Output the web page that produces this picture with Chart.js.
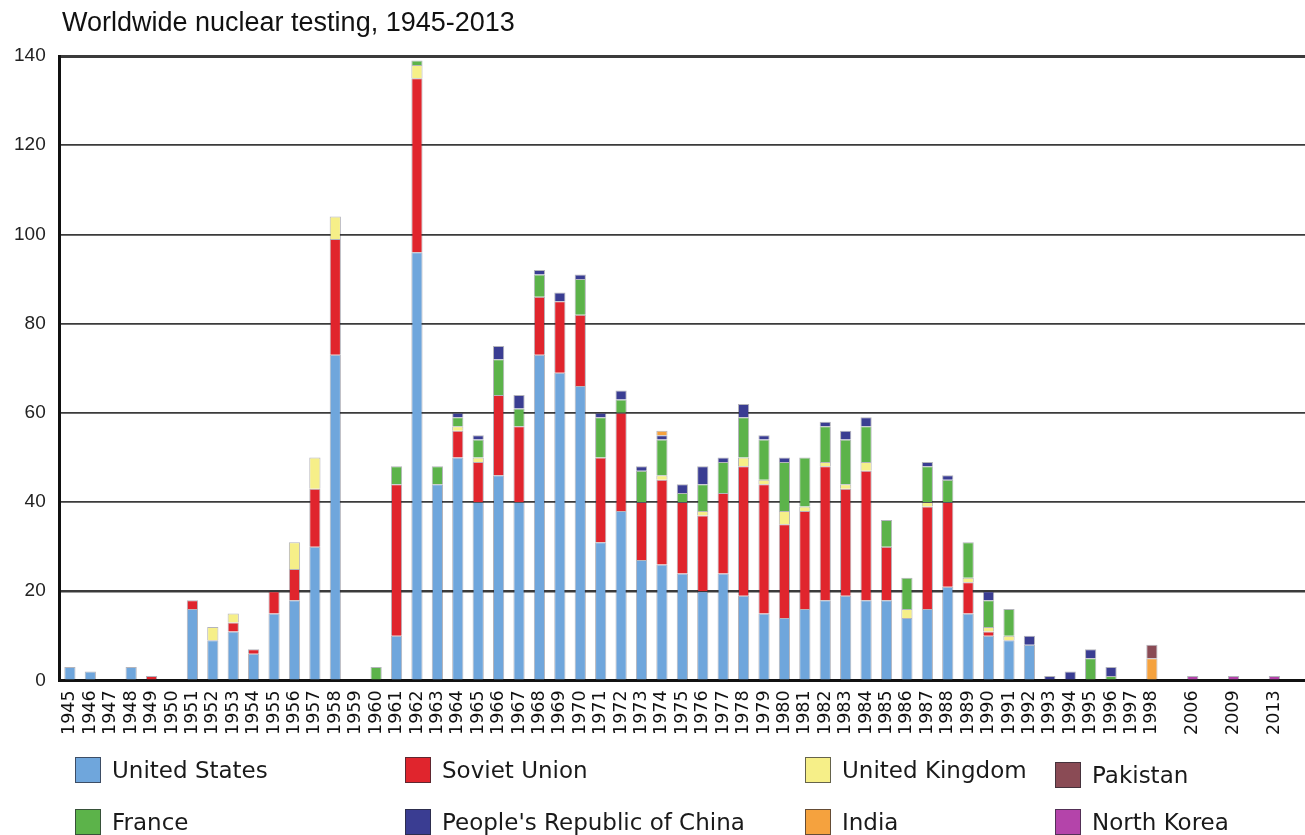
<!DOCTYPE html>
<html>
<head>
<meta charset="utf-8">
<script src="https://cdn.jsdelivr.net/npm/chart.js@4.4.1/dist/chart.umd.min.js"></script>
<style>
  body { margin: 0; background: #fff; }
  #wrap { position: relative; width: 1305px; height: 835px; overflow: hidden; }
  #title { position: absolute; left: 62px; top: 9px; font: 27px/26px "Liberation Sans", Arial, sans-serif; color: #111; white-space: nowrap; }
  .item { position: absolute; height: 26px; white-space: nowrap; font: 23px/26px "DejaVu Sans", sans-serif; color: #1a1a1a; }
  .box { position: absolute; left: 0; top: 0; width: 24px; height: 24px; border: 1px solid rgba(40,40,50,0.7); }
  .txt { position: absolute; left: 37px; top: 0; }
</style>
</head>
<body>
<div id="wrap">
  <canvas id="myChart" width="1305" height="835"></canvas>
  <div id="title">Worldwide nuclear testing, 1945-2013</div>
  <div id="legend"></div>
</div>
<script>
// categories: 1945-1998, then blank spacers around the later years
const years = ["1945","1946","1947","1948","1949","1950","1951","1952","1953","1954",
  "1955","1956","1957","1958","1959","1960","1961","1962","1963","1964",
  "1965","1966","1967","1968","1969","1970","1971","1972","1973","1974",
  "1975","1976","1977","1978","1979","1980","1981","1982","1983","1984",
  "1985","1986","1987","1988","1989","1990","1991","1992","1993","1994",
  "1995","1996","1997","1998","","2006","","2009","","2013",""];

// tests per year, one array per country (same order as years)
const unitedStates = [3,2,0,3,0,0,16,9,11,6, 15,18,30,73,0,0,10,96,44,50,
  40,46,40,73,69,66,31,38,27,26, 24,20,24,19,15,14,16,18,19,18,
  18,14,16,21,15,10,9,8,0,0, 0,0,0,0, 0,0,0,0,0,0,0];
const sovietUnion = [0,0,0,0,1,0,2,0,2,1, 5,7,13,26,0,0,34,39,0,6,
  9,18,17,13,16,16,19,22,13,19, 16,17,18,29,29,21,22,30,24,29,
  12,0,23,19,7,1,0,0,0,0, 0,0,0,0, 0,0,0,0,0,0,0];
const unitedKingdom = [0,0,0,0,0,0,0,3,2,0, 0,6,7,5,0,0,0,3,0,1,
  1,0,0,0,0,0,0,0,0,1, 0,1,0,2,1,3,1,1,1,2,
  0,2,1,0,1,1,1,0,0,0, 0,0,0,0, 0,0,0,0,0,0,0];
const france = [0,0,0,0,0,0,0,0,0,0, 0,0,0,0,0,3,4,1,4,2,
  4,8,4,5,0,8,9,3,7,8, 2,6,7,9,9,11,11,8,10,8,
  6,7,8,5,8,6,6,0,0,0, 5,1,0,0, 0,0,0,0,0,0,0];
const china = [0,0,0,0,0,0,0,0,0,0, 0,0,0,0,0,0,0,0,0,1,
  1,3,3,1,2,1,1,2,1,1, 2,4,1,3,1,1,0,1,2,2,
  0,0,1,1,0,2,0,2,1,2, 2,2,0,0, 0,0,0,0,0,0,0];
const india = [0,0,0,0,0,0,0,0,0,0, 0,0,0,0,0,0,0,0,0,0,
  0,0,0,0,0,0,0,0,0,1, 0,0,0,0,0,0,0,0,0,0,
  0,0,0,0,0,0,0,0,0,0, 0,0,0,5, 0,0,0,0,0,0,0];
const pakistan = [0,0,0,0,0,0,0,0,0,0, 0,0,0,0,0,0,0,0,0,0,
  0,0,0,0,0,0,0,0,0,0, 0,0,0,0,0,0,0,0,0,0,
  0,0,0,0,0,0,0,0,0,0, 0,0,0,3, 0,0,0,0,0,0,0];
const northKorea = [0,0,0,0,0,0,0,0,0,0, 0,0,0,0,0,0,0,0,0,0,
  0,0,0,0,0,0,0,0,0,0, 0,0,0,0,0,0,0,0,0,0,
  0,0,0,0,0,0,0,0,0,0, 0,0,0,0, 0,1,0,1,0,1,0];

const countries = ["United States","Soviet Union","United Kingdom","France",
  "People's Republic of China","India","Pakistan","North Korea"];
const series = [unitedStates, sovietUnion, unitedKingdom, france, china, india, pakistan, northKorea];
const colors = ["#6fa6dc","#e0252d","#f6ef88","#5cb34a","#3a3d92","#f5a23e","#8a4b55","#b444aa"];

// legend spots (left, top of the colour box) – 4 columns, 2 rows
const legendSpots = [[75,757],[405,757],[805,757],[75,809],[405,809],[805,809],[1055,762],[1055,809]];

const datasets = countries.map((name, i) => ({
  label: name,
  data: series[i].map(v => v === 0 ? null : v),
  backgroundColor: colors[i],
  borderColor: "rgba(40,40,60,0.35)",
  borderWidth: 1,
  barPercentage: 0.55,
  categoryPercentage: 1.0,
}));

const ctx = document.getElementById("myChart").getContext("2d");
let myChart = new Chart(ctx, {
  type: "bar",
  data: { labels: years, datasets: datasets },
  options: {
    responsive: false,
    animation: false,
    layout: { padding: { top: 56, left: 0, right: 0, bottom: 90 } },
    plugins: {
      legend: { display: false },
      title: { display: false },
      tooltip: { enabled: false },
    },
    scales: {
      x: {
        stacked: true,
        offset: true,
        // let the plot run right to the edge of the canvas
        afterFit: (scale) => { scale.paddingRight = 0; scale.paddingLeft = 0; },
        grid: { display: false, drawTicks: false },
        border: { display: true, color: "#111", width: 3 },
        ticks: {
          autoSkip: false,
          maxRotation: 90,
          minRotation: 90,
          padding: 10,
          color: "#111",
          font: { family: "DejaVu Sans", size: 17.5 },
        },
      },
      y: {
        stacked: true,
        min: 0,
        max: 140,
        z: 1,
        grid: {
          drawTicks: false,
          color: "rgba(10,10,10,0.8)",
          lineWidth: (c) => c.tick.value === 140 ? 3 : (c.tick.value === 20 ? 2.6 : 1.8),
        },
        border: { display: true, color: "#111", width: 3 },
        ticks: {
          stepSize: 20,
          padding: 14,
          color: "#222",
          font: { family: "Liberation Sans", size: 19 },
        },
      },
    },
  },
});

// html legend built from the chart's datasets
const legend = document.getElementById("legend");
myChart.data.datasets.forEach((ds, i) => {
  const item = document.createElement("div");
  item.className = "item";
  item.style.left = legendSpots[i][0] + "px";
  item.style.top = legendSpots[i][1] + "px";
  item.innerHTML = '<span class="box" style="background:' + ds.backgroundColor + '"></span><span class="txt"></span>';
  item.querySelector(".txt").textContent = ds.label;
  legend.appendChild(item);
});
</script>
</body>
</html>
